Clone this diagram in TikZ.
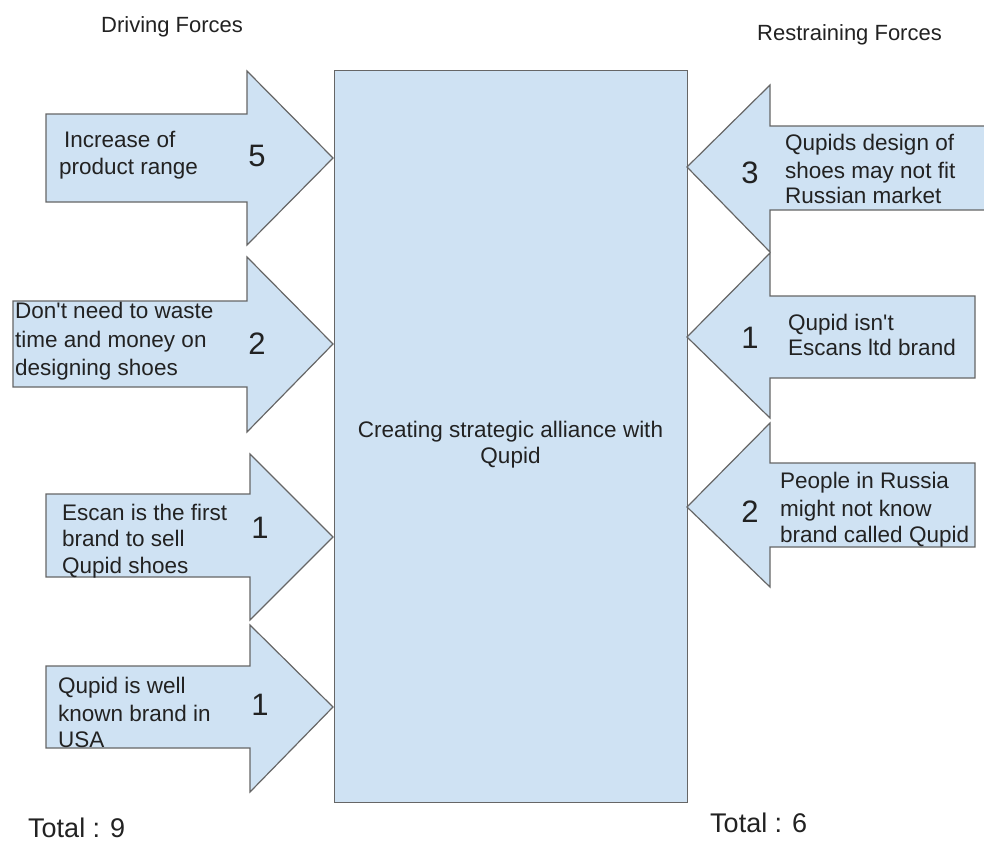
\documentclass[tikz,border=0pt]{standalone}
\usepackage{fontspec}
\setmainfont{Liberation Sans}[Ligatures=TeXOff]
\definecolor{fillblue}{HTML}{CFE2F3}
\definecolor{edgegray}{HTML}{666666}
\definecolor{ink}{HTML}{222222}
\begin{document}
\begin{tikzpicture}[x=1pt,y=-1pt,
  force/.style={fill=fillblue,draw=edgegray,line width=1.2pt,line join=miter},
  lbl/.style={anchor=base west,inner sep=0pt,text=ink,font=\fontsize{22.5}{27}\selectfont},
  ctr/.style={anchor=base,inner sep=0pt,text=ink,font=\fontsize{22.5}{27}\selectfont},
  num/.style={inner sep=0pt,text=ink,font=\fontsize{31}{31}\selectfont},
  headtxt/.style={anchor=base west,inner sep=0pt,text=ink,font=\fontsize{22}{26}\selectfont},
  totaltxt/.style={anchor=base west,inner sep=0pt,text=ink,font=\fontsize{27}{30}\selectfont}]
\useasboundingbox (0,0) rectangle (984,841);

% central box
\node[force,anchor=north west,inner sep=0pt,minimum width=353pt,minimum height=732pt] (goal) at (334,70) {};
\node[ctr] (g1) at (510.5,437) {Creating strategic alliance with};
\node[ctr] (g2) at (510.5,463) {Qupid};

% headings
\node[headtxt] (hd) at (101,32) {Driving Forces};
\node[headtxt] (hr) at (757,40) {Restraining Forces};

% driving forces (left arrows)
\draw[force] (46,114) -- (247,114) -- (247,71) -- (333,158) -- (247,245) -- (247,202) -- (46,202) -- cycle;
\draw[force] (13,301) -- (247,301) -- (247,257) -- (333,344) -- (247,432) -- (247,387) -- (13,387) -- cycle;
\draw[force] (46,494) -- (250,494) -- (250,454) -- (333,537) -- (250,620) -- (250,577) -- (46,577) -- cycle;
\draw[force] (46,666) -- (250,666) -- (250,625) -- (333,707) -- (250,792) -- (250,748) -- (46,748) -- cycle;

% restraining forces (right arrows)
\draw[force] (990,126) -- (770,126) -- (770,85) -- (687,167) -- (770,252) -- (770,210) -- (990,210);
\draw[force] (975,296) -- (770,296) -- (770,253) -- (687,337) -- (770,418) -- (770,378) -- (975,378) -- cycle;
\draw[force] (975,463) -- (770,463) -- (770,423) -- (687,507) -- (770,587) -- (770,547) -- (975,547) -- cycle;

% left labels
\node[lbl] (a1) at (64,147) {Increase of};
\node[lbl] (a2) at (59,174) {product range};
\node[num] (n1) at (257,156) {5};

\node[lbl] (b1) at (15,318) {Don't need to waste};
\node[lbl] (b2) at (15,347) {time and money on};
\node[lbl] (b3) at (15,375) {designing shoes};
\node[num] (n2) at (257,344) {2};

\node[lbl] (c1) at (62,520) {Escan is the first};
\node[lbl] (c2) at (62,546) {brand to sell};
\node[lbl] (c3) at (62,573) {Qupid shoes};
\node[num] (n3) at (260,528) {1};

\node[lbl] (d1) at (58,693) {Qupid is well};
\node[lbl] (d2) at (58,721) {known brand in};
\node[lbl] (d3) at (58,747) {USA};
\node[num] (n4) at (260,705) {1};

% right labels
\node[lbl] (e1) at (785,150) {Qupids design of};
\node[lbl] (e2) at (785,178) {shoes may not fit};
\node[lbl] (e3) at (785,203) {Russian market};
\node[num] (n5) at (750,173) {3};

\node[lbl] (f1) at (788,330) {Qupid isn't};
\node[lbl] (f2) at (788,355) {Escans ltd brand};
\node[num] (n6) at (750,338) {1};

\node[lbl] (h1) at (780,488) {People in Russia};
\node[lbl] (h2) at (780,516) {might not know};
\node[lbl] (h3) at (780,542) {brand called Qupid};
\node[num] (n7) at (750,512) {2};

% totals
\node[totaltxt] (t1) at (28,837) {Total : 9};
\node[totaltxt] (t2) at (710,832) {Total : 6};
\end{tikzpicture}
\end{document}
